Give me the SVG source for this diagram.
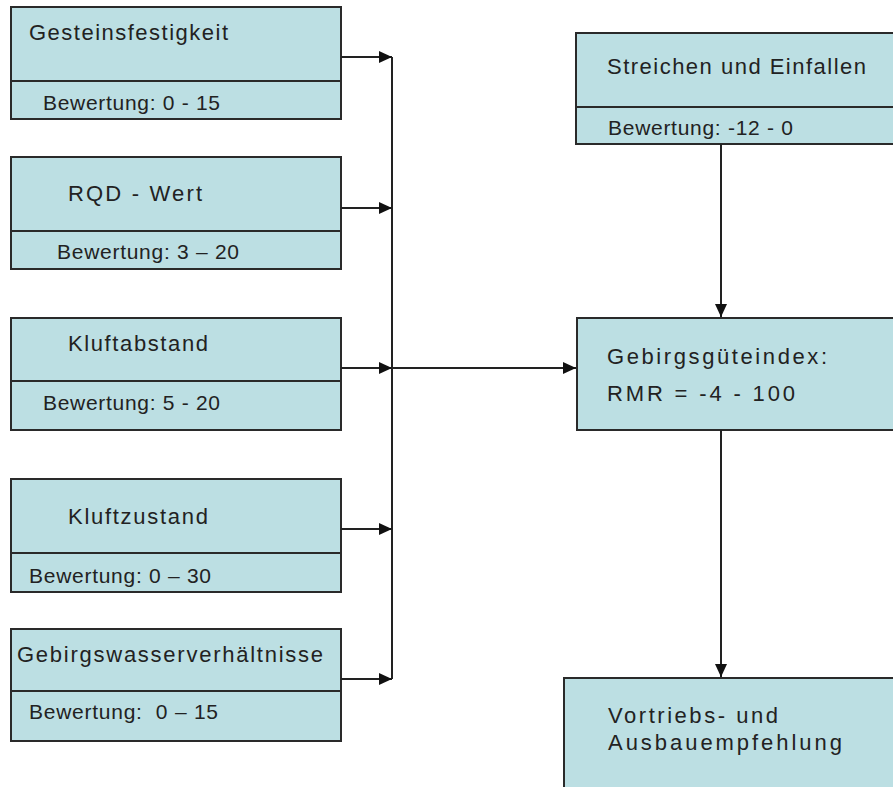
<svg xmlns="http://www.w3.org/2000/svg" width="893" height="787" viewBox="0 0 893 787">
<style>
.box{fill:#bcdfe3;stroke:#2a2a2a;stroke-width:2}
.div{stroke:#2a2a2a;stroke-width:2}
.t{font-family:"Liberation Sans",Arial,sans-serif;font-size:22px;fill:#222}
.s{font-family:"Liberation Sans",Arial,sans-serif;font-size:21px;fill:#222}
.c{stroke:#222;stroke-width:2;fill:none}
</style>
<defs>
<marker id="ah" markerWidth="13" markerHeight="12" refX="13" refY="6" orient="auto" markerUnits="userSpaceOnUse">
<path d="M0,0 L13,6 L0,12 Z" fill="#111"/>
</marker>
</defs>
<rect width="893" height="787" fill="#fff"/>
<g id="gesteinsfestigkeit">
<rect class="box" x="11" y="7" width="330" height="112"/>
<line class="div" x1="11" y1="81" x2="341" y2="81"/>
<text class="t" x="29" y="40" textLength="199" lengthAdjust="spacing">Gesteinsfestigkeit</text>
<text class="s" x="43" y="110" textLength="177" lengthAdjust="spacing">Bewertung: 0 - 15</text>
</g>
<g id="rqd">
<rect class="box" x="11" y="157" width="330" height="112"/>
<line class="div" x1="11" y1="231" x2="341" y2="231"/>
<text class="t" x="68" y="201" textLength="134" lengthAdjust="spacing">RQD - Wert</text>
<text class="s" x="57" y="259" textLength="182" lengthAdjust="spacing">Bewertung: 3 – 20</text>
</g>
<g id="kluftabstand">
<rect class="box" x="11" y="318" width="330" height="112"/>
<line class="div" x1="11" y1="381" x2="341" y2="381"/>
<text class="t" x="68" y="351" textLength="140" lengthAdjust="spacing">Kluftabstand</text>
<text class="s" x="43" y="410" textLength="177" lengthAdjust="spacing">Bewertung: 5 - 20</text>
</g>
<g id="kluftzustand">
<rect class="box" x="11" y="479" width="330" height="113"/>
<line class="div" x1="11" y1="553" x2="341" y2="553"/>
<text class="t" x="68" y="524" textLength="140" lengthAdjust="spacing">Kluftzustand</text>
<text class="s" x="29" y="583" textLength="182" lengthAdjust="spacing">Bewertung: 0 – 30</text>
</g>
<g id="gebirgswasser">
<rect class="box" x="11" y="629" width="330" height="112"/>
<line class="div" x1="11" y1="691" x2="341" y2="691"/>
<text class="t" x="17" y="662" textLength="306" lengthAdjust="spacing">Gebirgswasserverhältnisse</text>
<text class="s" x="29" y="719" textLength="189" lengthAdjust="spacing" xml:space="preserve">Bewertung:  0 – 15</text>
</g>
<g id="streichen">
<rect class="box" x="576" y="33" width="330" height="111"/>
<line class="div" x1="576" y1="107" x2="906" y2="107"/>
<text class="t" x="607" y="74" textLength="259" lengthAdjust="spacing">Streichen und Einfallen</text>
<text class="s" x="608" y="135" textLength="185" lengthAdjust="spacing">Bewertung: -12 - 0</text>
</g>
<g id="rmr">
<rect class="box" x="577" y="318" width="330" height="112"/>
<text class="t" x="607" y="364" textLength="220" lengthAdjust="spacing">Gebirgsgüteindex:</text>
<text class="t" x="607" y="401" textLength="188" lengthAdjust="spacing">RMR = -4 - 100</text>
</g>
<g id="vortrieb">
<rect class="box" x="564" y="678" width="340" height="120"/>
<text class="t" x="608" y="723" textLength="170" lengthAdjust="spacing">Vortriebs- und</text>
<text class="t" x="608" y="750" textLength="234" lengthAdjust="spacing">Ausbauempfehlung</text>
</g>
<g id="connectors">
<line class="c" x1="392" y1="57" x2="392" y2="679"/>
<line class="c" x1="341" y1="57" x2="392" y2="57" marker-end="url(#ah)"/>
<line class="c" x1="341" y1="208" x2="392" y2="208" marker-end="url(#ah)"/>
<line class="c" x1="341" y1="368" x2="392" y2="368" marker-end="url(#ah)"/>
<line class="c" x1="341" y1="529" x2="392" y2="529" marker-end="url(#ah)"/>
<line class="c" x1="341" y1="679" x2="392" y2="679" marker-end="url(#ah)"/>
<line class="c" x1="392" y1="368" x2="576" y2="368" marker-end="url(#ah)"/>
<line class="c" x1="721" y1="144" x2="721" y2="317" marker-end="url(#ah)"/>
<line class="c" x1="721" y1="430" x2="721" y2="677" marker-end="url(#ah)"/>
</g>
</svg>
